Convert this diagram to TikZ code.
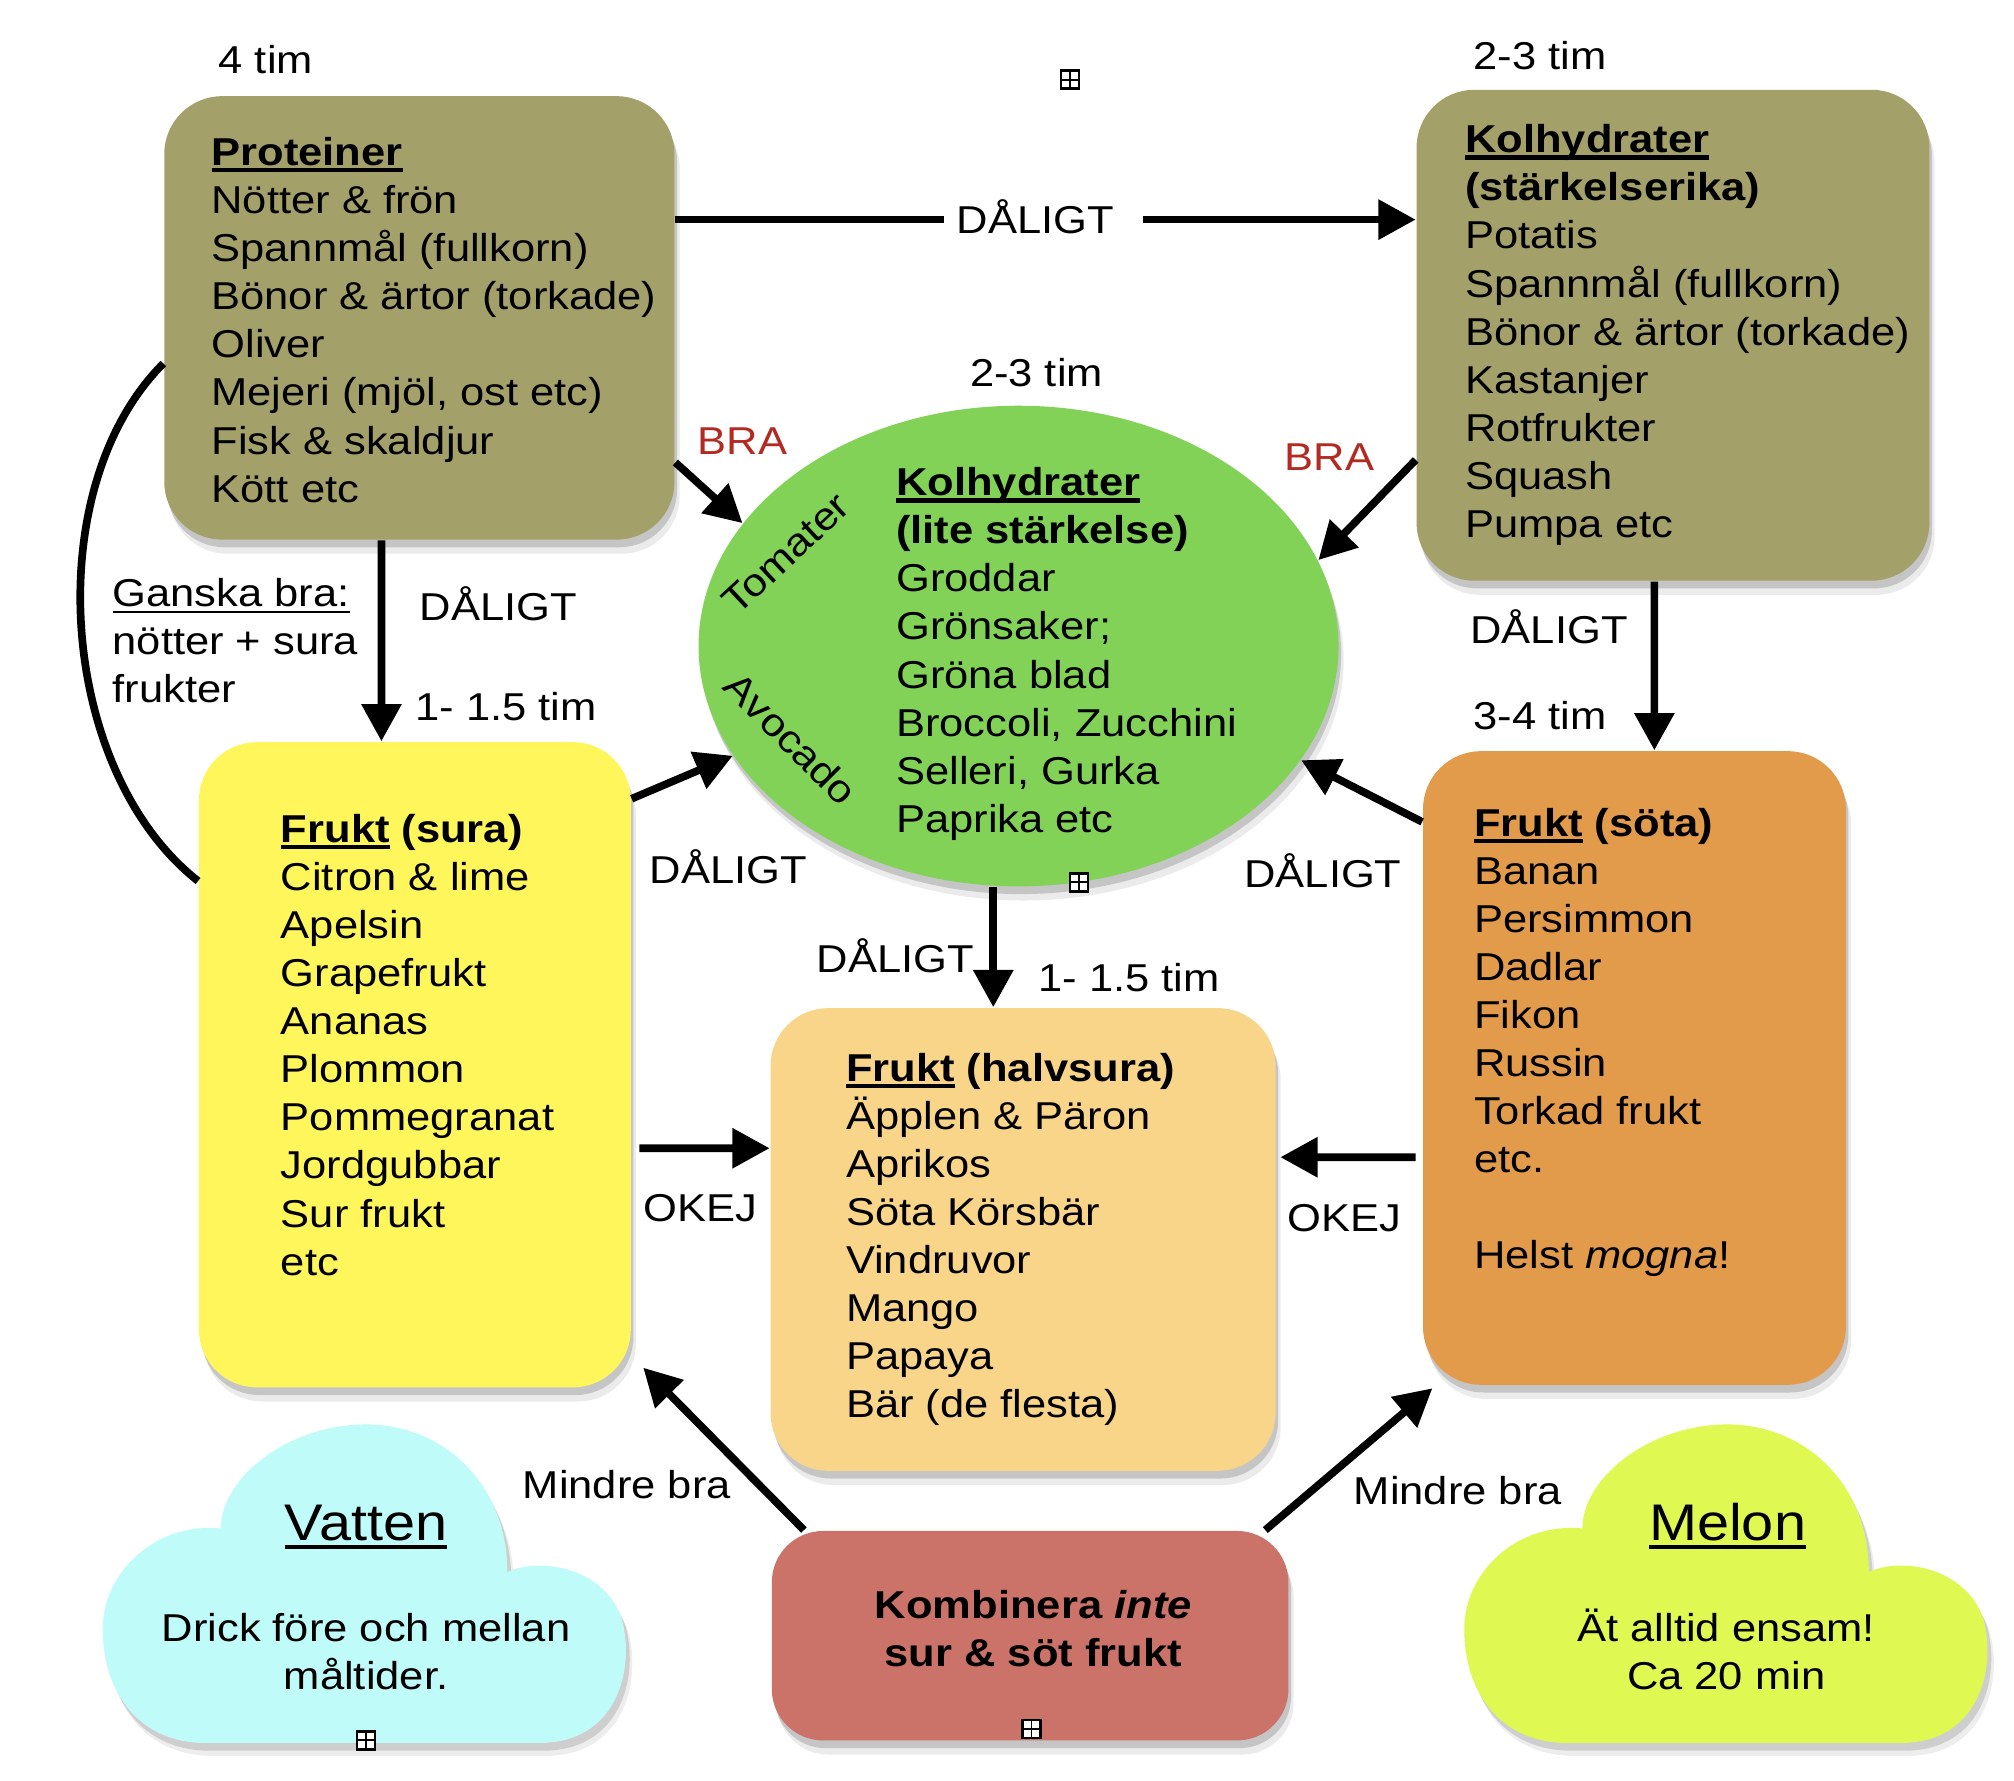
\documentclass[tikz,border=0pt]{standalone}
\usepackage{fontspec}
\setmainfont{Liberation Sans}[FakeStretch=1.12]
\usetikzlibrary{arrows.meta,shapes.geometric,shadows}

\definecolor{cOlive}{HTML}{A3A06A}
\definecolor{cGreen}{HTML}{81D257}
\definecolor{cYellow}{HTML}{FFF65B}
\definecolor{cHalv}{HTML}{F8D589}
\definecolor{cSota}{HTML}{E29B4B}
\definecolor{cKomb}{HTML}{CC7369}
\definecolor{cVatten}{HTML}{BFFBF9}
\definecolor{cMelon}{HTML}{DFF852}
\definecolor{cRed}{HTML}{B32A22}

\newcommand{\ulx}[2][-1.5pt]{\leavevmode\setbox0=\hbox{#2}\rlap{\rule[#1]{\wd0}{0.95pt}}\box0\relax}
\newcommand{\ulthin}[2][-1.6pt]{\leavevmode\setbox0=\hbox{#2}\rlap{\rule[#1]{\wd0}{0.6pt}}\box0\relax}
\newcommand{\Lcol}[1]{\begin{tabular}[t]{@{}l@{}}#1\end{tabular}}
\newcommand{\Ccol}[1]{\begin{tabular}[t]{@{}c@{}}#1\end{tabular}}

\newcommand{\cloudpath}{(160,1357) -- (420,1357)
  .. controls (480,1357) and (495,1300) .. (484,1260)
  .. controls (470,1220) and (420,1212) .. (395,1224)
  .. controls (395,1155) and (345,1109) .. (285,1109)
  .. controls (225,1109) and (172,1150) .. (172,1190)
  .. controls (120,1185) and (80,1225) .. (80,1268)
  .. controls (80,1320) and (110,1357) .. (160,1357) -- cycle}

\tikzset{
  txt/.style={inner sep=0pt, font=\fontsize{8.6}{10.64}\selectfont},
  lbl/.style={txt, anchor=base},
  shad/.style={drop shadow={shadow xshift=0.02cm, shadow yshift=-0.06cm, opacity=0.16, fill=black},
               drop shadow={shadow xshift=0.04cm, shadow yshift=-0.11cm, opacity=0.08, fill=black}},
  box/.style={rounded corners=0.45cm, inner sep=0pt, draw=none, shad},
  arr/.style={line width=1.7pt, -{Triangle[length=2.9mm,width=3mm]}},
  plain/.style={line width=1.7pt},
  plusbox/.style={draw, line width=0.5pt, fill=white, minimum size=0.14cm, inner sep=0pt,
    path picture={\draw[line width=0.4pt] (path picture bounding box.north) -- (path picture bounding box.south)
      (path picture bounding box.west) -- (path picture bounding box.east);}},
}

\begin{document}
\begin{tikzpicture}[x=0.01cm, y=-0.01cm]
\fill[white] (0,0) rectangle (1568,1386);
\useasboundingbox (0,0) rectangle (1568,1386);

% boxes
\node[box, fill=cOlive, minimum width=3.97cm, minimum height=3.45cm] (prot) at (326.5,247.5) {};
\node[box, fill=cOlive, minimum width=3.99cm, minimum height=3.82cm] (kolr) at (1302.5,261) {};
\node[ellipse, fill=cGreen, minimum width=4.98cm, minimum height=3.74cm, inner sep=0pt, shad] (ell) at (793,503) {};
\node[box, fill=cYellow, minimum width=3.36cm, minimum height=5.02cm] (sura) at (323,829) {};
\node[box, fill=cHalv, minimum width=3.93cm, minimum height=3.60cm] (halv) at (796.5,965) {};
\node[box, fill=cSota, minimum width=3.29cm, minimum height=4.93cm] (sota) at (1272.5,831.5) {};
\node[box, fill=cKomb, minimum width=4.02cm, minimum height=1.63cm, rounded corners=0.4cm] (komb) at (802,1273.5) {};

% clouds
\fill[black, opacity=0.13, shift={(3,6)}] \cloudpath;
\fill[black, opacity=0.07, shift={(5,10)}] \cloudpath;
\fill[cVatten] \cloudpath;
\begin{scope}[shift={(1060,0)}]
\fill[black, opacity=0.13, shift={(3,6)}] \cloudpath;
\fill[black, opacity=0.07, shift={(5,10)}] \cloudpath;
\fill[cMelon] \cloudpath;
\end{scope}

% box texts
\node[txt, anchor=base west] (protT) at (164,129) {\Lcol{\ulx{\textbf{Proteiner}}\\
  Nötter \& frön\\ Spannmål (fullkorn)\\ Bönor \& ärtor (torkade)\\ Oliver\\
  Mejeri (mjöl, ost etc)\\ Fisk \& skaldjur\\ Kött etc}};
\node[txt, anchor=base west] (kolrT) at (1140,119) {\Lcol{\ulx{\textbf{Kolhydrater}}\\
  \textbf{(stärkelserika)}\\ Potatis\\ Spannmål (fullkorn)\\ Bönor \& ärtor (torkade)\\
  Kastanjer\\ Rotfrukter\\ Squash\\ Pumpa etc}};
\node[txt, anchor=base west] (ellT) at (697,386) {\Lcol{\ulx{\textbf{Kolhydrater}}\\
  \textbf{(lite stärkelse)}\\ Groddar\\ Grönsaker;\\ Gröna blad\\ Broccoli, Zucchini\\
  Selleri, Gurka\\ Paprika etc}};
\node[txt, anchor=base west] (suraT) at (218,656) {\Lcol{\ulx{\textbf{Frukt}} \textbf{(sura)}\\
  Citron \& lime\\ Apelsin\\ Grapefrukt\\ Ananas\\ Plommon\\ Pommegranat\\ Jordgubbar\\
  Sur frukt\\ etc}};
\node[txt, anchor=base west] (halvT) at (658,842) {\Lcol{\ulx{\textbf{Frukt}} \textbf{(halvsura)}\\
  Äpplen \& Päron\\ Aprikos\\ Söta Körsbär\\ Vindruvor\\ Mango\\ Papaya\\ Bär (de flesta)}};
\node[txt, anchor=base west] (sotaT) at (1147,651) {\Lcol{\ulx{\textbf{Frukt}} \textbf{(söta)}\\
  Banan\\ Persimmon\\ Dadlar\\ Fikon\\ Russin\\ Torkad frukt\\ etc.\\ \\ Helst \textit{mogna}!}};
\node[txt, anchor=base] (kombT) at (804.5,1260) {\bfseries\Ccol{Kombinera \textit{inte}\\
  sur \& söt frukt}};
\node[txt, rotate=43] (tom) at (612,431) {Tomater};
\node[txt, rotate=-45] (avo) at (616,575) {Avocado};

% cloud texts
\node[lbl, font=\fontsize{11.4}{13}\selectfont] (vatT) at (285,1199) {\ulx[-2pt]{Vatten}};
\node[txt, anchor=base] (vatB) at (285,1278) {\Ccol{Drick före och mellan\\ måltider.}};
\node[lbl, font=\fontsize{11.4}{13}\selectfont] (melT) at (1345,1199) {\ulx[-2pt]{Melon}};
\node[txt, anchor=base] (melB) at (1344,1278) {\Ccol{Ät alltid ensam!\\ Ca 20 min}};

% labels
\node[lbl] (t4) at (207,57) {4 tim};
\node[lbl] (t23a) at (1199,54) {2-3 tim};
\node[lbl] (d1) at (806,182) {DÅLIGT};
\node[lbl] (t23b) at (807,301) {2-3 tim};
\node[lbl, text=cRed] (bra1) at (578,354) {BRA};
\node[lbl, text=cRed] (bra2) at (1035,366) {BRA};
\node[txt, anchor=base west] (ganska) at (87,472) {\Lcol{\ulthin{Ganska bra:}\\ nötter + sura\\ frukter}};
\node[lbl] (d2) at (388,483) {DÅLIGT};
\node[lbl] (t15a) at (394,561) {1- 1.5 tim};
\node[lbl] (d3) at (1206,501) {DÅLIGT};
\node[lbl] (t34) at (1199,568) {3-4 tim};
\node[lbl] (d4) at (567,688) {DÅLIGT};
\node[lbl] (d5) at (1030,691) {DÅLIGT};
\node[lbl] (d6) at (697,757) {DÅLIGT};
\node[lbl] (t15b) at (879,772) {1- 1.5 tim};
\node[lbl] (ok1) at (545,951) {OKEJ};
\node[lbl] (ok2) at (1047,959) {OKEJ};
\node[lbl] (mb1) at (488,1167) {Mindre bra};
\node[lbl] (mb2) at (1135,1171) {Mindre bra};

% connectors
\coordinate (a1) at (735,171);
\coordinate (a2) at (890,171);
\draw[plain] (prot.east |- a1) -- (a1);
\draw[arr] (a2) -- (kolr.west |- a2);
\draw[arr] ([yshift=-1.125cm]prot.east) -- (ell.156);
\draw[arr] ([yshift=-0.97cm]kolr.west) -- (ell.16);
\draw[arr] ([xshift=-0.295cm]prot.south) -- ([xshift=-0.26cm]sura.north);
\draw[plain] ([yshift=-0.355cm]prot.west) .. controls (30,380) and (45,600) .. ([yshift=1.43cm]sura.west);
\draw[arr] ([yshift=2.07cm]sura.east) -- (ell.201);
\draw[arr] (ell.264) -- (ell.264 |- halv.north);
\draw[arr] ([xshift=-0.145cm]kolr.south) -- ([xshift=0.155cm]sota.north);
\draw[arr] ([yshift=1.915cm]sota.west) -- (ell.338);
\draw[arr] ([xshift=0.06cm,yshift=-0.65cm]sura.east) -- ([yshift=0.71cm]halv.west);
\draw[arr] ([xshift=-0.05cm,yshift=-0.695cm]sota.west) -- ([xshift=0.03cm,yshift=0.64cm]halv.east);
\draw[arr] ([xshift=-1.76cm]komb.north) -- ([xshift=0.09cm,yshift=0.16cm]sura.south east);
\draw[arr] ([xshift=1.83cm]komb.north) -- ([xshift=0.08cm,yshift=-0.02cm]sota.south west);

% small icons
\node[plusbox] (ic1) at (833,62) {};
\node[plusbox] (ic2) at (840,687) {};
\node[plusbox] (ic3) at (285,1355) {};
\node[plusbox] (ic4) at (803,1346) {};
\end{tikzpicture}
\end{document}
